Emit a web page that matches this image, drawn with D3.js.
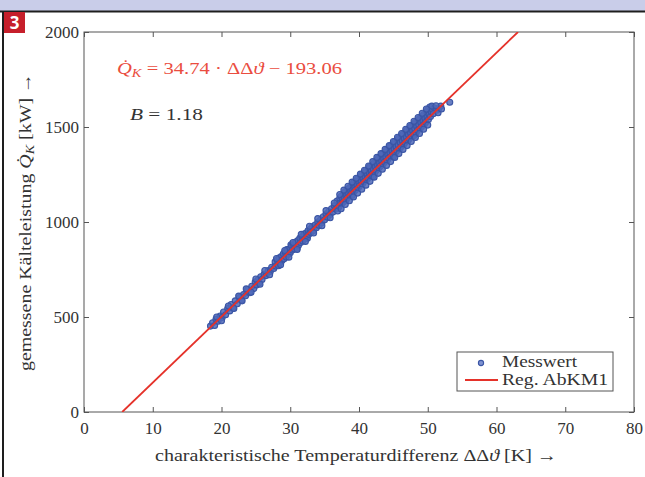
<!DOCTYPE html>
<html>
<head>
<meta charset="utf-8">
<script src="https://cdn.jsdelivr.net/npm/d3@7"></script>
<style>
body { margin: 0; background: #fff; }
svg { display: block; font-family: "Liberation Serif", serif; }
</style>
</head>
<body>
<div id="myPlot"></div>
<script>
// Messwerte: [charakteristische Temperaturdifferenz (K), Kälteleistung (kW)]
const messwerte = [
    [18.4, 452], [18.7, 470], [19.0, 455], [19.2, 488], [19.5, 478], [19.8, 505], [20.1, 498],
    [20.3, 526], [20.6, 512], [20.9, 545], [21.2, 532], [21.4, 566], [21.7, 548], [22.0, 585],
    [22.3, 570], [22.6, 603], [22.9, 590], [23.2, 618], [23.5, 612], [23.8, 645], [24.1, 628],
    [24.4, 662], [24.7, 650], [24.9, 684], [25.1, 668], [25.3, 695], [25.5, 680], [25.7, 712],
    [25.9, 698], [26.2, 725], [26.5, 718], [26.8, 745], [27.1, 740], [27.3, 762], [27.6, 755],
    [27.8, 790], [27.9, 768], [28.1, 800], [28.2, 776], [28.3, 770], [28.4, 812], [28.5, 788],
    [28.7, 818], [28.8, 798], [29.0, 832], [29.1, 806], [29.3, 840], [29.4, 816], [29.5, 855],
    [29.6, 852], [29.7, 830], [29.9, 858], [30.0, 838], [30.1, 880], [30.2, 874], [30.3, 852],
    [30.5, 880], [30.6, 858], [30.8, 895], [30.9, 870], [31.0, 862], [31.1, 902], [31.2, 878],
    [31.4, 915], [31.5, 892], [31.7, 922], [31.8, 900], [32.0, 936], [32.1, 910], [32.3, 942],
    [32.4, 922], [32.5, 915], [32.6, 955], [32.7, 935], [32.9, 962], [33.0, 945],
    [33.2, 975], [33.4, 955], [33.6, 984], [33.8, 970], [34.0, 1000], [34.2, 982], [34.4, 1012],
    [34.6, 996], [34.8, 1028], [35.0, 1012], [35.2, 1042], [35.4, 1025], [35.6, 1055], [35.8, 1040],
    [36.0, 1070], [36.2, 1052], [36.4, 1085], [36.6, 1068],
    [36.8, 1110], [36.9, 1072], [37.0, 1095], [37.1, 1080], [37.2, 1125], [37.3, 1100],
    [37.4, 1135], [37.5, 1098], [37.6, 1118], [37.7, 1105], [37.8, 1148], [37.9, 1126],
    [38.0, 1160], [38.1, 1115], [38.2, 1140], [38.3, 1128], [38.4, 1172], [38.5, 1150],
    [38.6, 1180], [38.7, 1138], [38.8, 1162], [38.9, 1150], [39.0, 1195], [39.0, 1140], [39.1, 1170],
    [39.2, 1205], [39.3, 1160], [39.4, 1182], [39.5, 1170], [39.6, 1215], [39.7, 1195],
    [39.8, 1228], [39.9, 1180], [40.0, 1205], [40.1, 1192], [40.2, 1238], [40.3, 1215],
    [40.4, 1250], [40.5, 1200], [40.6, 1228], [40.7, 1212], [40.8, 1258], [40.9, 1236],
    [41.0, 1270], [41.1, 1222], [41.2, 1248], [41.3, 1232], [41.4, 1280], [41.5, 1258], [41.5, 1285],
    [41.6, 1292], [41.7, 1244], [41.8, 1268], [41.9, 1252], [42.0, 1302], [42.0, 1240], [42.1, 1278],
    [42.2, 1312], [42.3, 1262], [42.4, 1290], [42.5, 1272], [42.6, 1325], [42.7, 1300],
    [42.8, 1335], [42.9, 1285], [43.0, 1310], [43.1, 1295], [43.2, 1345], [43.3, 1322],
    [43.4, 1356], [43.5, 1305], [43.6, 1332], [43.7, 1315], [43.8, 1368], [43.9, 1342],
    [44.0, 1378], [44.1, 1325], [44.2, 1352], [44.3, 1336], [44.4, 1390], [44.5, 1364], [44.5, 1395],
    [44.6, 1400], [44.7, 1346], [44.8, 1375], [44.9, 1355], [45.0, 1410], [45.0, 1345], [45.1, 1385],
    [45.2, 1422], [45.3, 1366], [45.4, 1395], [45.5, 1376], [45.6, 1432], [45.7, 1405],
    [45.8, 1442], [45.9, 1385], [46.0, 1418], [46.1, 1396], [46.2, 1452], [46.3, 1428],
    [46.4, 1462], [46.5, 1408], [46.6, 1438], [46.7, 1418], [46.8, 1474], [46.9, 1448],
    [47.0, 1485], [47.1, 1428], [47.2, 1458], [47.3, 1438], [47.4, 1495], [47.5, 1468], [47.5, 1500],
    [47.6, 1505], [47.7, 1450], [47.8, 1480], [47.9, 1460], [48.0, 1515], [48.0, 1455], [48.1, 1492],
    [48.2, 1525], [48.3, 1470], [48.4, 1502], [48.5, 1482], [48.6, 1535], [48.7, 1512],
    [48.8, 1545], [48.9, 1492], [49.0, 1522], [49.1, 1502], [49.2, 1556], [49.3, 1532],
    [49.4, 1565], [49.5, 1515], [49.6, 1545], [49.7, 1525], [49.8, 1578], [49.9, 1552],
    [50.0, 1590], [50.1, 1540], [50.2, 1566], [50.3, 1605], [50.4, 1555], [50.5, 1580],
    [50.7, 1592], [51.0, 1600], [51.3, 1588], [51.6, 1596], [51.9, 1610], [53.2, 1630],
    // outer scatter
    [19.3, 500], [20.0, 480], [21.0, 558], [21.8, 545], [22.5, 610], [23.0, 585], [23.6, 648],
    [24.3, 630], [25.0, 700], [25.6, 672], [26.3, 745], [27.0, 722],
    [28.0, 808], [28.6, 775], [29.2, 850], [29.8, 815], [30.4, 892], [31.0, 855], [31.6, 935],
    [32.2, 898], [32.8, 978], [33.4, 942], [34.0, 1018], [34.6, 980], [35.2, 1060], [35.8, 1022],
    [36.4, 1100], [36.9, 1058],
    [37.2, 1145], [37.4, 1070], [37.8, 1168], [38.0, 1092], [38.4, 1188], [38.6, 1112],
    [39.0, 1210], [39.2, 1132], [39.6, 1230], [39.8, 1152], [40.2, 1252], [40.4, 1172],
    [40.8, 1272], [41.0, 1194], [41.4, 1295], [41.6, 1214], [42.0, 1318], [42.2, 1236],
    [42.6, 1340], [42.8, 1256], [43.2, 1360], [43.4, 1278], [43.8, 1382], [44.0, 1298],
    [44.4, 1402], [44.6, 1318], [45.0, 1424], [45.2, 1340], [45.6, 1446], [45.8, 1360],
    [46.2, 1466], [46.4, 1382], [46.8, 1488], [47.0, 1402], [47.4, 1508], [47.6, 1424],
    [48.0, 1530], [48.2, 1445], [48.6, 1550], [48.8, 1466], [49.2, 1572], [49.4, 1488],
    [49.8, 1595], [50.0, 1510], [50.6, 1610], [50.8, 1570], [51.2, 1612], [51.5, 1575], [52.0, 1595]
];

// Regression Q_K = a * dT + b
const regA = 34.74;
const regB = -193.06;

const xTicks = [0, 10, 20, 30, 40, 50, 60, 70, 80];
const yTicks = [0, 500, 1000, 1500, 2000];

const width = 645;
const height = 477;
const plotLeft = 84, plotRight = 634, plotTop = 32, plotBottom = 412;

const svg = d3.select("#myPlot")
    .append("svg")
    .attr("width", width)
    .attr("height", height);

// page decoration (band, border, badge)
svg.append("rect").attr("x", 0).attr("y", 0).attr("width", width).attr("height", 11).attr("fill", "#c9cde9");
svg.append("line").attr("x1", 0).attr("x2", width).attr("y1", 11.5).attr("y2", 11.5).attr("stroke", "#1e1e1e").attr("stroke-width", 2);
svg.append("line").attr("x1", 3).attr("x2", 3).attr("y1", 11).attr("y2", height).attr("stroke", "#1e1e1e").attr("stroke-width", 2);
svg.append("rect").attr("x", 4).attr("y", 12).attr("width", 21).attr("height", 21).attr("fill", "#c61f2b");
svg.append("text").attr("x", 14.5).attr("y", 29)
    .attr("text-anchor", "middle")
    .style("font-family", "'Open Sans', 'Liberation Sans', sans-serif")
    .style("font-weight", "bold").style("font-size", "17px")
    .attr("fill", "#fff").text("3");

// scales
const x = d3.scaleLinear().domain([0, 80]).range([plotLeft, plotRight]);
const y = d3.scaleLinear().domain([0, 2000]).range([plotBottom, plotTop]);
const fmt = d3.format("d");

// axes
svg.append("g")
    .attr("transform", "translate(0," + plotBottom + ")")
    .call(d3.axisBottom(x).tickValues(xTicks).tickFormat(fmt).tickSizeInner(-5).tickSizeOuter(0).tickPadding(10));
svg.append("g")
    .attr("transform", "translate(" + plotLeft + ",0)")
    .call(d3.axisLeft(y).tickValues(yTicks).tickFormat(fmt).tickSizeInner(-5).tickSizeOuter(0).tickPadding(5));
svg.append("g")
    .attr("transform", "translate(0," + plotTop + ")")
    .call(d3.axisTop(x).tickValues(xTicks).tickSizeInner(-5).tickSizeOuter(0).tickFormat(""));
svg.append("g")
    .attr("transform", "translate(" + plotRight + ",0)")
    .call(d3.axisRight(y).tickValues(yTicks).tickSizeInner(-5).tickSizeOuter(0).tickFormat(""));

svg.selectAll(".domain").remove();
svg.selectAll(".tick line").attr("stroke", "#555");
svg.selectAll(".tick text")
    .style("font-family", "'Liberation Serif', serif")
    .style("font-size", "17px")
    .attr("fill", "#333");

// box
svg.append("rect")
    .attr("x", plotLeft).attr("y", plotTop)
    .attr("width", plotRight - plotLeft).attr("height", plotBottom - plotTop)
    .attr("fill", "none").attr("stroke", "#555").attr("stroke-width", 1);

// clip
svg.append("clipPath").attr("id", "clip")
    .append("rect").attr("x", plotLeft).attr("y", plotTop)
    .attr("width", plotRight - plotLeft).attr("height", plotBottom - plotTop);

// Dots
svg.append("g")
    .selectAll("circle")
    .data(messwerte)
    .enter()
    .append("circle")
    .attr("cx", d => x(d[0]))
    .attr("cy", d => y(d[1]))
    .attr("r", 3)
    .attr("fill", "#4f69b9")
    .attr("fill-opacity", 0.85)
    .attr("stroke", "#3a55a5")
    .attr("stroke-width", 1.1);

// Regression line
const x0 = (0 - regB) / regA;
const x1 = (2000 - regB) / regA;
svg.append("line")
    .attr("clip-path", "url(#clip)")
    .attr("x1", x(x0)).attr("y1", y(regA * x0 + regB))
    .attr("x2", x(x1)).attr("y2", y(regA * x1 + regB))
    .attr("stroke", "#e5322a")
    .attr("stroke-width", 1.8);

// equation
const eq = svg.append("text")
    .attr("x", 117).attr("y", 74)
    .attr("fill", "#ea4d40")
    .style("font-size", "17px")
    .attr("textLength", 225).attr("lengthAdjust", "spacingAndGlyphs");
eq.append("tspan").style("font-style", "italic").text("Q\u0307");
eq.append("tspan").style("font-style", "italic").style("font-size", "12px").attr("dy", 3).text("K");
eq.append("tspan").attr("dy", -3).text(" = 34.74 \u00b7 \u0394\u0394");
eq.append("tspan").style("font-style", "italic").text("\u03d1");
eq.append("tspan").text(" \u2212 193.06");

const bt = svg.append("text")
    .attr("x", 130).attr("y", 120)
    .attr("fill", "#333")
    .style("font-size", "17px")
    .attr("textLength", 73).attr("lengthAdjust", "spacingAndGlyphs");
bt.append("tspan").style("font-style", "italic").text("B");
bt.append("tspan").text(" = 1.18");

// x label
const xl = svg.append("text")
    .attr("x", 356).attr("y", 461)
    .attr("text-anchor", "middle")
    .attr("fill", "#333")
    .style("font-size", "17px")
    .attr("textLength", 402).attr("lengthAdjust", "spacingAndGlyphs");
xl.append("tspan").text("charakteristische Temperaturdifferenz \u0394\u0394");
xl.append("tspan").style("font-style", "italic").text("\u03d1");
xl.append("tspan").text(" [K] \u2192");

// y label
const yl = svg.append("text")
    .attr("transform", "translate(31,222) rotate(-90)")
    .attr("text-anchor", "middle")
    .attr("fill", "#333")
    .style("font-size", "17px")
    .attr("textLength", 298).attr("lengthAdjust", "spacingAndGlyphs");
yl.append("tspan").text("gemessene K\u00e4lteleistung ");
yl.append("tspan").style("font-style", "italic").text("Q\u0307");
yl.append("tspan").style("font-style", "italic").style("font-size", "12px").attr("dy", 3).text("K");
yl.append("tspan").attr("dy", -3).text(" [kW] \u2192");

// legend
const lg = svg.append("g");
lg.append("rect")
    .attr("x", 457).attr("y", 352).attr("width", 156).attr("height", 39)
    .attr("fill", "#fff").attr("stroke", "#555").attr("stroke-width", 1);
lg.append("circle")
    .attr("cx", 481).attr("cy", 363).attr("r", 2.6)
    .attr("fill", "#7f92d0")
    .attr("stroke", "#3a55a5").attr("stroke-width", 1.1);
lg.append("line")
    .attr("x1", 465).attr("x2", 498).attr("y1", 380).attr("y2", 380)
    .attr("stroke", "#e5322a").attr("stroke-width", 1.8);
lg.append("text").attr("x", 502).attr("y", 367)
    .attr("fill", "#333").style("font-size", "16px")
    .attr("textLength", 75).attr("lengthAdjust", "spacingAndGlyphs").text("Messwert");
lg.append("text").attr("x", 502).attr("y", 385)
    .attr("fill", "#333").style("font-size", "16px")
    .attr("textLength", 106).attr("lengthAdjust", "spacingAndGlyphs").text("Reg. AbKM1");
</script>
</body>
</html>
